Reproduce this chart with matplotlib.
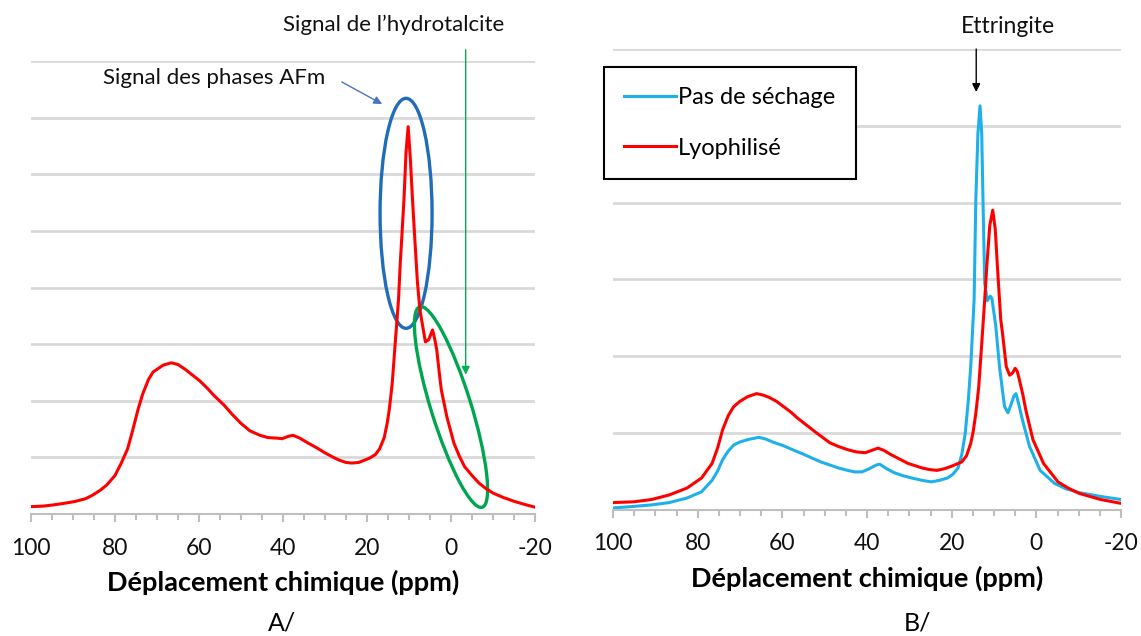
import numpy as np
import matplotlib
matplotlib.use("Agg")
import matplotlib.pyplot as plt
from matplotlib.patches import Ellipse
import matplotlib.transforms as mtransforms

plt.rcParams['font.family'] = ['Lato', 'DejaVu Sans']

# --- data (ppm, intensity in gridline units) ---
ppm_a = [100, 97, 94.7, 92, 89.6, 87, 85.4, 83.5, 82, 80, 78.5, 77, 76, 74.5, 73.4, 72,
         70.9, 68.5, 66.6, 65, 63.2, 61.5, 59.8, 58, 56.4, 54, 52.1, 50, 47.9, 45.5,
         43.6, 41.5, 40.2, 38.8, 37.6, 36, 34.2, 32, 30, 28, 26.6, 25, 23.6, 22, 20.6,
         19.3, 18, 17, 15.9, 15.2, 14.7, 14, 13.4, 12.5, 12.1, 11.2, 10.7, 10.2, 9.7,
         9.2, 8.7, 8.0, 7.4, 7.0, 6.1, 5.3, 4.4, 3.9, 3.4, 2.8, 2.3, 1.0, -0.7, -2,
         -3.2, -5, -6.6, -8.3, -10, -12.5, -15.2, -17.5, -20]
lyo_a = [0.13, 0.14, 0.16, 0.19, 0.22, 0.27, 0.33, 0.42, 0.51, 0.68, 0.9, 1.15, 1.42,
         1.85, 2.12, 2.38, 2.51, 2.63, 2.67, 2.64, 2.55, 2.45, 2.35, 2.22, 2.09, 1.92,
         1.76, 1.60, 1.47, 1.39, 1.35, 1.34, 1.33, 1.37, 1.39, 1.34, 1.26, 1.17, 1.08,
         1.00, 0.95, 0.91, 0.90, 0.91, 0.95, 0.99, 1.05, 1.15, 1.35, 1.6, 1.84, 2.3,
         2.9, 3.78, 4.4, 5.55, 6.4, 6.84, 6.3, 5.6, 4.96, 4.1, 3.6, 3.43, 3.04, 3.08,
         3.25, 3.1, 2.9, 2.5, 2.19, 1.72, 1.25, 1.02, 0.84, 0.68, 0.55, 0.45, 0.37,
         0.29, 0.22, 0.17, 0.12]

ppm_lyo_b = [100, 95.1, 90.9, 86.7, 82.5, 79.1, 76.6, 75.3, 74.1, 72.8, 71.5, 70, 68.2,
             66.1, 64.5, 63.1, 61.4, 59.7, 58, 56.4, 54.3, 52.2, 50.5, 48.8, 46.7, 44.6,
             42.5, 40.4, 38.9, 37.4, 36, 34.5, 32.4, 30.3, 28.6, 26.9, 25.2, 23.5, 21.8,
             20.2, 18.9, 17.6, 16.5, 15.5, 14.9, 14.3, 13.6, 13.0, 12.2, 11.7, 11.0,
             10.3, 9.7, 9.2, 8.4, 8.0, 7.1, 6.3, 5.6, 5.0, 4.5, 4.0, 3.2, 2.5, 0.8,
             -1.7, -5.1, -7.5, -10.1, -15.2, -20]
lyo_b = [0.09, 0.10, 0.13, 0.19, 0.28, 0.41, 0.60, 0.80, 1.04, 1.22, 1.34, 1.41, 1.47,
         1.51, 1.49, 1.46, 1.41, 1.34, 1.27, 1.19, 1.10, 1.01, 0.94, 0.87, 0.82, 0.78,
         0.75, 0.74, 0.77, 0.80, 0.77, 0.72, 0.66, 0.60, 0.57, 0.54, 0.52, 0.51, 0.53,
         0.56, 0.59, 0.62, 0.70, 0.86, 1.02, 1.25, 1.6, 2.08, 2.73, 3.17, 3.7, 3.90,
         3.65, 3.17, 2.47, 2.30, 1.86, 1.75, 1.78, 1.84, 1.80, 1.69, 1.50, 1.30, 0.91,
         0.60, 0.36, 0.28, 0.21, 0.13, 0.08]

ppm_pas_b = [100, 95.1, 90.9, 86.7, 82.5, 79.1, 76.6, 75.3, 74.1, 72.8, 71.5, 70, 68.2,
             65.6, 64, 62.3, 59.7, 57.2, 55, 53, 50.9, 48.8, 46.7, 44.6, 42.9, 41.2,
             39.5, 37.8, 37, 35.3, 33.6, 31.5, 29.4, 27, 24.8, 22.9, 21, 19.7, 18.5,
             17.6, 16.8, 16.1, 15.5, 14.7, 14.3, 13.8, 13.3, 12.9, 12.6, 12.2, 11.6,
             10.9, 10.5, 9.6, 8.7, 8.0, 7.5, 6.7, 5.9, 5.3, 4.8, 4.1, 3.3, 1.6, -0.9,
             -4.3, -7, -10.1, -15.2, -20]
pas_b = [0.02, 0.04, 0.06, 0.09, 0.15, 0.23, 0.38, 0.50, 0.65, 0.76, 0.84, 0.88, 0.91,
         0.94, 0.92, 0.88, 0.83, 0.77, 0.72, 0.67, 0.62, 0.58, 0.54, 0.51, 0.49, 0.49,
         0.53, 0.58, 0.59, 0.53, 0.48, 0.44, 0.41, 0.38, 0.36, 0.38, 0.41, 0.46, 0.54,
         0.72, 0.99, 1.4, 1.86, 2.73, 4.03, 4.9, 5.26, 4.9, 4.03, 2.95, 2.72, 2.78,
         2.75, 2.4, 1.86, 1.55, 1.34, 1.26, 1.38, 1.48, 1.51, 1.36, 1.17, 0.82, 0.51,
         0.34, 0.27, 0.22, 0.17, 0.13]

xticks = [100, 80, 60, 40, 20, 0, -20]
RED = '#ff0000'
CYAN = '#1fb0ea'
GRID = '#d9d9d9'
AXIS = '#bfbfbf'

fig = plt.figure(figsize=(11.41, 6.36), dpi=100)
ax1 = fig.add_axes([31 / 1141, 1 - 514 / 636, 504 / 1141, 453 / 636])
ax2 = fig.add_axes([613 / 1141, 1 - 509.5 / 636, 508 / 1141, 460.5 / 636])


def style(ax, ntop):
    ax.set_xlim(100, -20)
    ax.set_ylim(0, ntop)
    ax.set_yticks(range(0, ntop + 1))
    ax.set_yticklabels([])
    ax.tick_params(axis='y', length=0)
    ax.grid(axis='y', color=GRID, lw=2)
    ax.set_axisbelow(True)
    for s in ['top', 'left', 'right']:
        ax.spines[s].set_visible(False)
    ax.spines['bottom'].set_color(AXIS)
    ax.spines['bottom'].set_linewidth(1.5)
    ax.set_xticks(xticks)
    ax.set_xticks(np.arange(-20, 101, 5), minor=True)
    ax.set_xticklabels([str(t) for t in xticks])
    ax.tick_params(axis='x', which='major', direction='out', length=6, width=1.5,
                   color=AXIS, labelsize=16.5, labelcolor='#111111', pad=11)
    ax.tick_params(axis='x', which='minor', direction='out', length=4, width=1.5,
                   color=AXIS)
    ax.set_xlabel('Déplacement chimique (ppm)', fontsize=19.5, fontweight='bold',
                  labelpad=8)


style(ax1, 8)
style(ax2, 6)

# --- panel A ---
ax1.plot(ppm_a, lyo_a, color=RED, lw=2.2)


def pix_ellipse(ax, cx, cy, w, h, angle, color):
    tr = fig.dpi_scale_trans + mtransforms.ScaledTranslation(cx, cy, ax.transData)
    e = Ellipse((0, 0), w / 100, h / 100, angle=angle, transform=tr, fill=False,
                edgecolor=color, lw=2.4, clip_on=False)
    ax.add_patch(e)


pix_ellipse(ax1, 10.7, 5.31, 52, 230, 0, '#1f6db8')
pix_ellipse(ax1, 0.0, 1.89, 40, 210, 17.3, '#00a550')

ax1.annotate('', xy=(-3.5, 2.46), xytext=(-3.5, 8.2), annotation_clip=False,
             arrowprops=dict(arrowstyle='-|>', color='#00b050', lw=1.0,
                             mutation_scale=12, shrinkA=0, shrinkB=0))
ax1.text(13.6, 8.64, 'Signal de l\u2019hydrotalcite', fontsize=16, ha='center',
         va='center', color='#111111', clip_on=False)
ax1.text(56.4, 7.70, 'Signal des phases AFm', fontsize=16, ha='center',
         va='center', color='#111111')
ax1.annotate('', xy=(16.4, 7.24), xytext=(26.0, 7.63), annotation_clip=False,
             arrowprops=dict(arrowstyle='-|>', color='#4a74c0', lw=1.0,
                             mutation_scale=12, shrinkA=0, shrinkB=0))

# --- panel B ---
ax2.plot(ppm_lyo_b, lyo_b, color=RED, lw=2.2, label='Lyophilisé', zorder=3)
ax2.plot(ppm_pas_b, pas_b, color=CYAN, lw=2.2, label='Pas de séchage', zorder=2)
ax2.annotate('', xy=(14.2, 5.44), xytext=(14.2, 6.0), annotation_clip=False,
             arrowprops=dict(arrowstyle='-|>', color='black', lw=1.0,
                             mutation_scale=12, shrinkA=0, shrinkB=0))
ax2.text(6.7, 6.29, 'Ettringite', fontsize=16.5, ha='center', va='center',
         color='#111111', clip_on=False)

handles, labels = ax2.get_legend_handles_labels()
leg = fig.legend(handles[::-1], labels[::-1], loc='upper left',
                 bbox_to_anchor=(604 / 1141, 1 - 67 / 636), fontsize=17,
                 frameon=True, fancybox=False, edgecolor='black', framealpha=1,
                 handlelength=2.2, handletextpad=0.1, labelspacing=1.25,
                 borderpad=0.85, borderaxespad=0)
leg.get_frame().set_linewidth(1.5)

fig.text(282 / 1141, 1 - 623 / 636, 'A/', fontsize=18, ha='center', va='center')
fig.text(917 / 1141, 1 - 623 / 636, 'B/', fontsize=18, ha='center', va='center')

fig.savefig('out.png', dpi=100)
